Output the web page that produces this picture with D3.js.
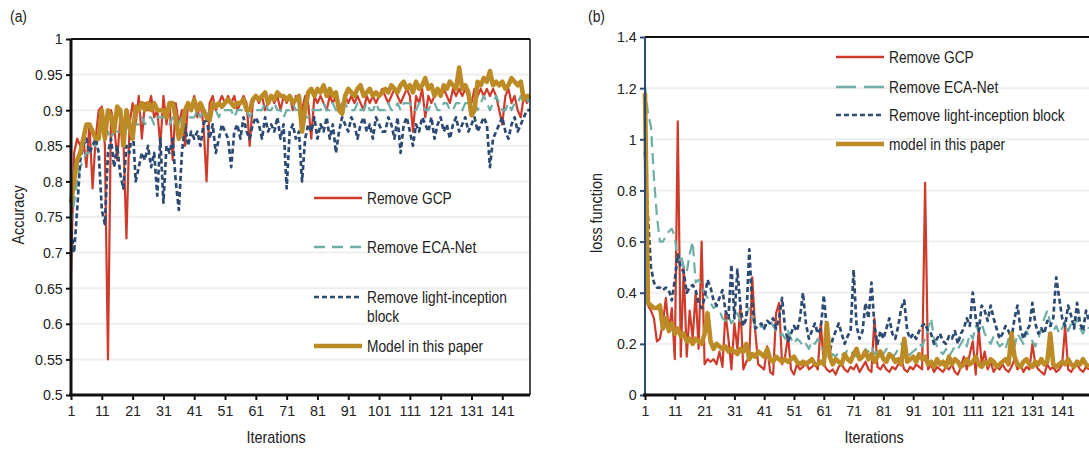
<!DOCTYPE html>
<html lang="en">
<head>
<meta charset="UTF-8">
<title>Ablation: accuracy and loss</title>
<script src="https://d3js.org/d3.v7.min.js"></script>
<style>
    body { margin: 0; background: #fff; }
    svg { display: block; }
    text { font-family: "Liberation Sans", Arial, sans-serif; fill: #222; }
    .tick text { font-size: 15.5px; }
    .grid line { stroke: #efefef; stroke-width: 2; }
</style>
</head>
<body>
<svg id="chart" width="1089" height="450"></svg>
<script>
// iterations 1..150
const iterations = d3.range(1, 151);
const xTicks = d3.range(1, 150, 10);

// (a) accuracy
const accGCP = [
    0.67, 0.84, 0.86, 0.85, 0.86, 0.82, 0.88, 0.79, 0.86, 0.90,
    0.905, 0.85, 0.55, 0.90, 0.88, 0.83, 0.89, 0.86, 0.72, 0.88,
    0.91, 0.88, 0.92, 0.86, 0.91, 0.90, 0.92, 0.89, 0.90, 0.85,
    0.92, 0.88, 0.91, 0.83, 0.91, 0.88, 0.90, 0.85, 0.91, 0.90,
    0.92, 0.89, 0.91, 0.88, 0.80, 0.91, 0.92, 0.90, 0.91, 0.92,
    0.91, 0.92, 0.91, 0.92, 0.90, 0.91, 0.92, 0.91, 0.85, 0.91,
    0.92, 0.91, 0.92, 0.90, 0.91, 0.92, 0.91, 0.92, 0.90, 0.92,
    0.91, 0.92, 0.90, 0.92, 0.91, 0.90, 0.92, 0.91, 0.86, 0.92,
    0.91, 0.92, 0.91, 0.90, 0.92, 0.91, 0.92, 0.91, 0.90, 0.92,
    0.91, 0.92, 0.91, 0.92, 0.91, 0.90, 0.92, 0.91, 0.92, 0.91,
    0.92, 0.93, 0.92, 0.91, 0.92, 0.93, 0.92, 0.91, 0.92, 0.93,
    0.92, 0.87, 0.92, 0.91, 0.93, 0.89, 0.92, 0.91, 0.92, 0.93,
    0.92, 0.93, 0.92, 0.91, 0.93, 0.92, 0.93, 0.92, 0.93, 0.92,
    0.91, 0.93, 0.92, 0.93, 0.92, 0.93, 0.92, 0.93, 0.92, 0.90,
    0.88, 0.92, 0.93, 0.91, 0.92, 0.90, 0.89, 0.92, 0.91, 0.92
];
const accECA = [
    0.74, 0.77, 0.80, 0.82, 0.83, 0.84, 0.84, 0.85, 0.85, 0.86,
    0.86, 0.86, 0.87, 0.86, 0.87, 0.87, 0.87, 0.88, 0.88, 0.87,
    0.88, 0.88, 0.88, 0.89, 0.88, 0.89, 0.89, 0.88, 0.89, 0.89,
    0.89, 0.89, 0.88, 0.89, 0.88, 0.88, 0.89, 0.89, 0.89, 0.89,
    0.89, 0.90, 0.89, 0.90, 0.90, 0.89, 0.90, 0.90, 0.89, 0.90,
    0.90, 0.90, 0.90, 0.89, 0.90, 0.90, 0.90, 0.90, 0.89, 0.90,
    0.90, 0.90, 0.90, 0.91, 0.90, 0.90, 0.91, 0.90, 0.90, 0.89,
    0.90, 0.90, 0.91, 0.90, 0.90, 0.90, 0.89, 0.89, 0.90, 0.90,
    0.90, 0.90, 0.91, 0.90, 0.90, 0.91, 0.90, 0.90, 0.91, 0.91,
    0.90, 0.90, 0.90, 0.91, 0.90, 0.90, 0.91, 0.90, 0.90, 0.91,
    0.90, 0.90, 0.90, 0.91, 0.90, 0.90, 0.91, 0.90, 0.91, 0.91,
    0.91, 0.90, 0.90, 0.91, 0.91, 0.90, 0.90, 0.91, 0.91, 0.90,
    0.90, 0.91, 0.91, 0.90, 0.90, 0.91, 0.91, 0.90, 0.91, 0.91,
    0.91, 0.91, 0.90, 0.91, 0.92, 0.91, 0.90, 0.91, 0.92, 0.91,
    0.90, 0.90, 0.91, 0.90, 0.91, 0.91, 0.92, 0.91, 0.91, 0.92
];
const accLight = [
    0.73, 0.70, 0.76, 0.83, 0.85, 0.86, 0.84, 0.85, 0.86, 0.84,
    0.76, 0.74, 0.84, 0.86, 0.82, 0.85, 0.81, 0.79, 0.85, 0.84,
    0.88, 0.80, 0.82, 0.84, 0.83, 0.85, 0.82, 0.84, 0.78, 0.86,
    0.77, 0.85, 0.84, 0.86, 0.80, 0.76, 0.84, 0.88, 0.85, 0.87,
    0.86, 0.87, 0.85, 0.88, 0.89, 0.86, 0.88, 0.84, 0.86, 0.88,
    0.87, 0.86, 0.82, 0.87, 0.88, 0.86, 0.89, 0.87, 0.86, 0.88,
    0.89, 0.88, 0.86, 0.89, 0.87, 0.88, 0.87, 0.89, 0.86, 0.88,
    0.79, 0.87, 0.88, 0.86, 0.87, 0.80, 0.86, 0.88, 0.87, 0.89,
    0.86, 0.88, 0.87, 0.89, 0.86, 0.88, 0.84, 0.87, 0.89, 0.88,
    0.87, 0.89, 0.88, 0.86, 0.88, 0.89, 0.87, 0.88, 0.86, 0.89,
    0.88, 0.87, 0.87, 0.89, 0.88, 0.86, 0.89, 0.84, 0.88, 0.89,
    0.87, 0.85, 0.88, 0.87, 0.89, 0.88, 0.87, 0.89, 0.86, 0.88,
    0.89, 0.87, 0.88, 0.86, 0.88, 0.89, 0.87, 0.88, 0.89, 0.87,
    0.88, 0.89, 0.87, 0.88, 0.89, 0.88, 0.82, 0.86, 0.87, 0.88,
    0.89, 0.87, 0.86, 0.88, 0.89, 0.87, 0.88, 0.89, 0.90, 0.90
];
const accModel = [
    0.77, 0.80, 0.83, 0.84, 0.86, 0.88, 0.88, 0.87, 0.86, 0.86,
    0.90, 0.86, 0.90, 0.89, 0.87, 0.905, 0.90, 0.85, 0.90, 0.88,
    0.86, 0.905, 0.90, 0.91, 0.90, 0.91, 0.90, 0.91, 0.90, 0.90,
    0.90, 0.89, 0.91, 0.91, 0.89, 0.86, 0.87, 0.90, 0.91, 0.90,
    0.915, 0.90, 0.91, 0.90, 0.89, 0.886, 0.91, 0.905, 0.91, 0.905,
    0.91, 0.915, 0.91, 0.905, 0.91, 0.91, 0.915, 0.90, 0.90, 0.915,
    0.92, 0.915, 0.92, 0.925, 0.91, 0.92, 0.915, 0.925, 0.92, 0.92,
    0.915, 0.92, 0.91, 0.915, 0.92, 0.87, 0.90, 0.925, 0.93, 0.92,
    0.93, 0.925, 0.935, 0.92, 0.93, 0.92, 0.925, 0.90, 0.895, 0.92,
    0.93, 0.925, 0.92, 0.93, 0.935, 0.92, 0.925, 0.93, 0.92, 0.925,
    0.92, 0.925, 0.93, 0.925, 0.935, 0.93, 0.925, 0.935, 0.94, 0.93,
    0.935, 0.925, 0.94, 0.93, 0.935, 0.945, 0.93, 0.935, 0.92, 0.93,
    0.92, 0.935, 0.93, 0.94, 0.935, 0.93, 0.96, 0.93, 0.935, 0.925,
    0.893, 0.90, 0.94, 0.935, 0.945, 0.94, 0.955, 0.935, 0.94, 0.935,
    0.94, 0.93, 0.935, 0.945, 0.94, 0.935, 0.94, 0.915, 0.92, 0.92
];
const accTicks = d3.range(0.5, 1.0001, 0.05);

// (b) loss function
const lossGCP = [
    0.95, 0.35, 0.33, 0.30, 0.21, 0.22, 0.28, 0.38, 0.25, 0.34,
    0.14, 1.07, 0.15, 0.50, 0.15, 0.33, 0.22, 0.40, 0.18, 0.60,
    0.12, 0.14, 0.13, 0.14, 0.12, 0.17, 0.11, 0.32, 0.22, 0.10,
    0.28, 0.18, 0.35, 0.10, 0.13, 0.15, 0.46, 0.25, 0.12, 0.11,
    0.10, 0.19, 0.09, 0.08, 0.32, 0.36, 0.12, 0.15, 0.23, 0.10,
    0.08, 0.12, 0.10, 0.11, 0.13, 0.10, 0.11, 0.12, 0.10, 0.28,
    0.12, 0.10, 0.09, 0.10, 0.08, 0.11, 0.12, 0.10, 0.09, 0.11,
    0.10, 0.12, 0.09, 0.11, 0.13, 0.10, 0.09, 0.30, 0.11, 0.10,
    0.12, 0.10, 0.09, 0.11, 0.10, 0.12, 0.14, 0.10, 0.09, 0.11,
    0.10, 0.12, 0.11, 0.10, 0.83, 0.10, 0.12, 0.09, 0.11, 0.10,
    0.09, 0.11, 0.10, 0.12, 0.09, 0.08, 0.11, 0.15, 0.10, 0.16,
    0.21, 0.08, 0.26, 0.12, 0.17, 0.10, 0.13, 0.09, 0.11, 0.10,
    0.12, 0.10, 0.09, 0.11, 0.14, 0.10, 0.12, 0.09, 0.11, 0.10,
    0.20, 0.12, 0.10, 0.09, 0.08, 0.12, 0.10, 0.11, 0.09, 0.10,
    0.12, 0.27, 0.10, 0.09, 0.11, 0.12, 0.10, 0.09, 0.11, 0.10
];
const lossECA = [
    1.21, 1.10, 1.05, 0.85, 0.70, 0.60, 0.60, 0.62, 0.64, 0.65,
    0.62, 0.52, 0.55, 0.50, 0.48, 0.55, 0.60, 0.44, 0.45, 0.43,
    0.40, 0.38, 0.36, 0.34, 0.35, 0.33, 0.30, 0.29, 0.31, 0.28,
    0.30, 0.32, 0.29, 0.30, 0.31, 0.34, 0.30, 0.27, 0.26, 0.27,
    0.26, 0.28, 0.29, 0.27, 0.25, 0.23, 0.24, 0.22, 0.25, 0.22,
    0.20, 0.22, 0.21, 0.19, 0.20, 0.18, 0.21, 0.20, 0.22, 0.19,
    0.17, 0.15, 0.14, 0.16, 0.15, 0.17, 0.16, 0.15, 0.18, 0.17,
    0.16, 0.15, 0.17, 0.16, 0.18, 0.17, 0.19, 0.16, 0.17, 0.15,
    0.16, 0.18, 0.17, 0.15, 0.16, 0.18, 0.20, 0.17, 0.15, 0.16,
    0.17, 0.18, 0.20, 0.19, 0.22, 0.26, 0.30, 0.22, 0.19, 0.17,
    0.16, 0.18, 0.15, 0.17, 0.19, 0.18, 0.20, 0.22, 0.19, 0.24,
    0.22, 0.27, 0.25, 0.28, 0.24, 0.22, 0.20, 0.23, 0.21, 0.19,
    0.20, 0.18, 0.22, 0.21, 0.19, 0.24, 0.22, 0.20, 0.25, 0.23,
    0.21, 0.19, 0.22, 0.26, 0.30, 0.33, 0.28, 0.25, 0.27, 0.24,
    0.26, 0.29, 0.25, 0.28, 0.27, 0.30, 0.26, 0.24, 0.27, 0.26
];
const lossLight = [
    0.95, 0.70, 0.50, 0.44, 0.42, 0.42, 0.41, 0.42, 0.41, 0.37,
    0.45, 0.55, 0.50, 0.48, 0.40, 0.42, 0.43, 0.41, 0.36, 0.34,
    0.38, 0.45, 0.42, 0.37, 0.35, 0.38, 0.41, 0.33, 0.30, 0.51,
    0.30, 0.49, 0.35, 0.27, 0.30, 0.57, 0.35, 0.26, 0.27, 0.28,
    0.26, 0.29, 0.28, 0.30, 0.26, 0.30, 0.38, 0.26, 0.21, 0.24,
    0.27, 0.25, 0.30, 0.40, 0.28, 0.22, 0.25, 0.28, 0.24, 0.26,
    0.39, 0.26, 0.17, 0.22, 0.25, 0.28, 0.24, 0.20, 0.23, 0.25,
    0.49, 0.27, 0.22, 0.25, 0.36, 0.30, 0.44, 0.27, 0.20, 0.25,
    0.22, 0.26, 0.30, 0.24, 0.22, 0.27, 0.34, 0.37, 0.25, 0.22,
    0.24, 0.22, 0.25, 0.27, 0.28, 0.25, 0.24, 0.20, 0.22, 0.24,
    0.21, 0.20, 0.23, 0.22, 0.25, 0.20, 0.24, 0.26, 0.30, 0.27,
    0.40, 0.30, 0.25, 0.35, 0.33, 0.29, 0.35, 0.30, 0.26, 0.22,
    0.24, 0.27, 0.25, 0.22, 0.30, 0.35, 0.26, 0.22, 0.25, 0.27,
    0.36, 0.28, 0.24, 0.26, 0.24, 0.29, 0.27, 0.30, 0.46, 0.38,
    0.30, 0.27, 0.35, 0.31, 0.26, 0.36, 0.28, 0.25, 0.33, 0.29
];
const lossModel = [
    1.18, 0.36, 0.35, 0.34, 0.34, 0.35, 0.26, 0.30, 0.25, 0.28,
    0.24, 0.26, 0.23, 0.24, 0.21, 0.22, 0.20, 0.22, 0.21, 0.20,
    0.24, 0.32, 0.21, 0.18, 0.20, 0.19, 0.18, 0.19, 0.17, 0.18,
    0.17, 0.16, 0.18, 0.17, 0.20, 0.14, 0.16, 0.15, 0.17, 0.16,
    0.15, 0.18, 0.14, 0.13, 0.15, 0.14, 0.13, 0.14, 0.13, 0.14,
    0.15, 0.13, 0.12, 0.13, 0.12, 0.13, 0.14, 0.12, 0.12, 0.13,
    0.12, 0.28, 0.15, 0.12, 0.14, 0.13, 0.12, 0.16, 0.14, 0.13,
    0.16, 0.18, 0.14, 0.15, 0.17, 0.14, 0.16, 0.13, 0.15, 0.17,
    0.14, 0.13, 0.16, 0.15, 0.13, 0.14, 0.12, 0.22, 0.13, 0.14,
    0.15, 0.13, 0.16, 0.14, 0.15, 0.12, 0.13, 0.11, 0.14, 0.12,
    0.13, 0.11, 0.15, 0.12, 0.14, 0.13, 0.11, 0.12, 0.14, 0.12,
    0.13, 0.15, 0.12, 0.11, 0.13, 0.12, 0.14, 0.13, 0.11, 0.12,
    0.13, 0.14, 0.12, 0.24, 0.15, 0.12, 0.11, 0.13, 0.14, 0.12,
    0.11, 0.13, 0.12, 0.14, 0.12, 0.13, 0.24, 0.12, 0.11, 0.12,
    0.13, 0.12, 0.14, 0.12, 0.11, 0.13, 0.12, 0.14, 0.12, 0.11
];
const lossTicks = d3.range(0, 1.4001, 0.2);

// line styles, same order as the legend
const styles = [
    { color: "#cf3b2b", width: 2.2, dash: null },
    { color: "#6eaea7", width: 2.2, dash: "11,6" },
    { color: "#2c4a72", width: 2.7, dash: "5,3" },
    { color: "#bd8b25", width: 4.6, dash: null }
];

const svg = d3.select("#chart");

// condensed look: text placed with a transform and squeezed horizontally
function label(parent, x, y, txt, opts = {}) {
    const sx = opts.sx || 0.87;
    const rot = opts.rotate ? " rotate(-90)" : "";
    return parent.append("text")
        .attr("transform", `translate(${x},${y})${rot} scale(${sx},1)`)
        .attr("text-anchor", opts.anchor || "start")
        .attr("font-size", opts.size || 16)
        .text(txt);
}

function drawPanel(opt) {
    const { left, right, top, bottom } = opt;
    const g = svg.append("g");

    const x = d3.scaleLinear().domain([1, 150]).range([left, right]);
    const y = d3.scaleLinear().domain(opt.yDomain).range([bottom, top]);

    // horizontal gridlines
    g.append("g").attr("class", "grid")
        .selectAll("line")
        .data(opt.yTicks.slice(1, -1))
        .join("line")
        .attr("x1", left).attr("x2", opt.gridRight)
        .attr("y1", d => y(d)).attr("y2", d => y(d));

    // series
    const line = d3.line().x((d, i) => x(iterations[i])).y(d => y(d));
    opt.series.forEach((s, k) => {
        g.append("path")
            .datum(s)
            .attr("fill", "none")
            .attr("stroke", styles[k].color)
            .attr("stroke-width", styles[k].width)
            .attr("stroke-dasharray", styles[k].dash)
            .attr("stroke-linejoin", "round")
            .attr("d", line);
    });

    // top (and right) border
    g.append("line")
        .attr("x1", left).attr("x2", opt.gridRight)
        .attr("y1", top).attr("y2", top)
        .attr("stroke", "#111").attr("stroke-width", 2);
    if (opt.rightBorder) {
        g.append("line")
            .attr("x1", opt.gridRight).attr("x2", opt.gridRight)
            .attr("y1", top).attr("y2", bottom)
            .attr("stroke", "#111").attr("stroke-width", 1.5);
    }

    // axes
    const yAxis = g.append("g")
        .attr("transform", `translate(${left},0)`)
        .call(d3.axisLeft(y).tickValues(opt.yTicks).tickSize(5).tickPadding(4)
            .tickFormat(d => +d.toFixed(2)));
    yAxis.select(".domain").attr("stroke", opt.yAxisColor).attr("stroke-width", opt.yAxisWidth)
        .attr("d", `M0,${bottom}V${top}`);
    yAxis.selectAll(".tick line").attr("stroke", opt.yAxisColor).attr("stroke-width", 2);

    const xAxis = g.append("g")
        .attr("transform", `translate(0,${bottom})`)
        .call(d3.axisBottom(x).tickValues(xTicks).tickSize(5).tickPadding(5));
    xAxis.select(".domain").attr("stroke", "#111").attr("stroke-width", 3)
        .attr("d", `M${left - 2},0H${opt.gridRight}`);
    xAxis.selectAll(".tick line").attr("stroke", "#111").attr("stroke-width", 2);

    g.selectAll(".tick text").attr("fill", "#222").attr("transform", "scale(0.92,1)");

    // titles
    label(g, opt.tagX, 22, opt.tag);
    label(g, opt.xTitleX, 443, "Iterations", { anchor: "middle", sx: 0.9 });
    label(g, opt.yTitleX, opt.yTitleY, opt.yTitle, { anchor: "middle", rotate: true, sx: 0.9 });

    // legend
    const lg = g.append("g");
    opt.legendLabels.forEach((lab, k) => {
        const it = opt.legendItems[k];
        lg.append("line")
            .attr("x1", opt.legendX).attr("x2", opt.legendX + opt.legendLen)
            .attr("y1", it).attr("y2", it)
            .attr("stroke", styles[k].color)
            .attr("stroke-width", k === 3 ? 4.6 : (k === 2 ? 2.7 : 2.4))
            .attr("stroke-dasharray", k === 1 ? opt.legendDash : styles[k].dash);
        lab.split("\n").forEach((t, j) => {
            label(lg, opt.legendX + opt.legendLen + 5, it + 6 + j * 19, t, { sx: 0.86 });
        });
    });
}

drawPanel({
    left: 71, right: 530, top: 39, bottom: 395, gridRight: 530, rightBorder: true,
    yDomain: [0.5, 1], yTicks: accTicks,
    series: [accGCP, accECA, accLight, accModel],
    yAxisColor: "#111", yAxisWidth: 3,
    tag: "(a)", tagX: 10, xTitleX: 276, yTitle: "Accuracy", yTitleX: 24, yTitleY: 215,
    legendX: 314, legendLen: 48, legendDash: "11,7",
    legendItems: [198, 247, 297, 346],
    legendLabels: ["Remove GCP", "Remove ECA-Net", "Remove light-inception\nblock", "Model in this paper"]
});

drawPanel({
    left: 645, right: 1089, top: 37, bottom: 395, gridRight: 1095, rightBorder: false,
    yDomain: [0, 1.4], yTicks: lossTicks,
    series: [lossGCP, lossECA, lossLight, lossModel],
    yAxisColor: "#2c4a72", yAxisWidth: 2,
    tag: "(b)", tagX: 588, xTitleX: 874, yTitle: "loss function", yTitleX: 602, yTitleY: 213,
    legendX: 836, legendLen: 48, legendDash: "20,8",
    legendItems: [57, 87, 115, 144],
    legendLabels: ["Remove GCP", "Remove ECA-Net", "Remove light-inception block", "model in this paper"]
});
</script>
</body>
</html>
